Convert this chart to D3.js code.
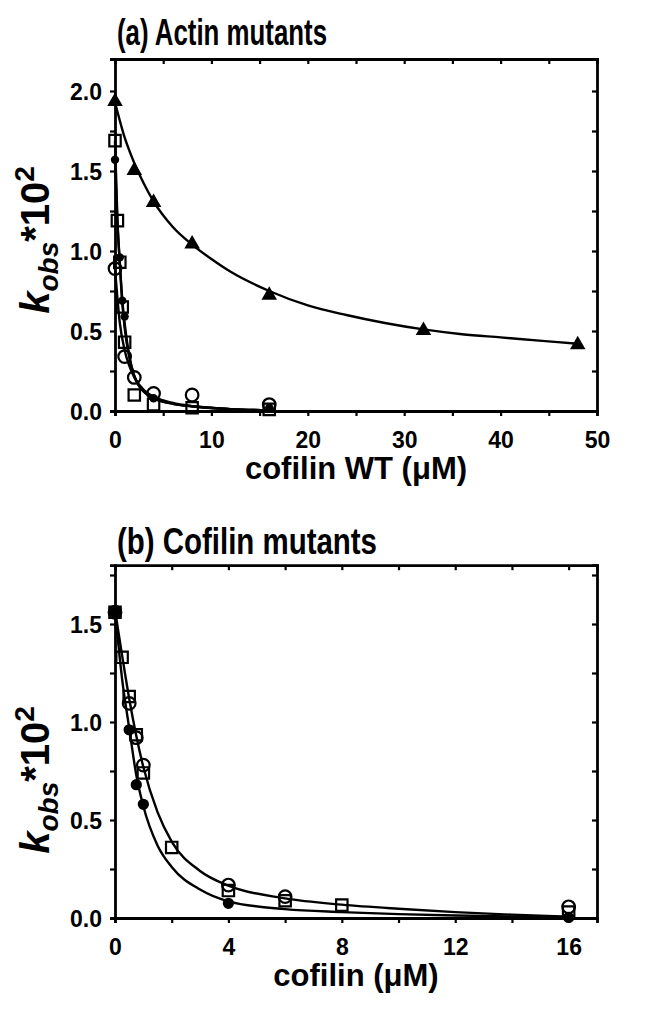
<!DOCTYPE html>
<html><head><meta charset="utf-8">
<script src="https://cdn.jsdelivr.net/npm/d3@7"></script>
<style>body{margin:0;background:#fff}svg{display:block}</style>
</head><body>
<script>
// ---------- Panel (a) data: actin mutants vs cofilin WT ----------
const aTriangles = [[0,1.94],[2,1.51],[4,1.31],[8,1.05],[16,0.73],[32,0.51],[48,0.42]];
const aSquares   = [[0,1.69],[0.25,1.19],[0.5,0.93],[0.75,0.65],[1,0.43],[2,0.10],[4,0.04],[8,0.02],[16,0.01]];
const aFilled    = [[0,1.57],[0.5,0.96],[0.75,0.69],[1,0.59],[4,0.08],[16,0.02]];
const aOpen      = [[0,0.89],[1,0.34],[2,0.21],[4,0.11],[8,0.10],[16,0.04]];
// fitted curves
const aCurveTri  = [[0,1.93],[1,1.71],[2,1.55],[3,1.42],[4,1.31],[6,1.15],[8,1.04],[10,0.95],[12,0.87],[16,0.75],[20,0.66],[24,0.60],[28,0.55],[32,0.51],[36,0.48],[40,0.46],[44,0.44],[48,0.42]];
const aCurveSq   = [[0,1.69],[0.25,1.20],[0.5,0.92],[0.75,0.68],[1,0.52],[1.5,0.33],[2,0.22],[3,0.12],[4,0.08],[6,0.045],[8,0.03],[12,0.012],[16,0.005]];
const aCurveFc   = [[0,1.57],[0.25,1.18],[0.5,0.93],[0.75,0.70],[1,0.55],[1.5,0.34],[2,0.22],[3,0.12],[4,0.08],[6,0.045],[8,0.03],[12,0.012],[16,0.005]];
const aCurveOc   = [[0,0.89],[0.5,0.55],[1,0.38],[1.5,0.28],[2,0.21],[3,0.13],[4,0.09],[6,0.05],[8,0.03],[12,0.012],[16,0.005]];
const aXTicks = [0,10,20,30,40,50];
const aYTicks = [0,0.5,1,1.5,2];

// ---------- Panel (b) data: cofilin mutants ----------
const bSquares = [[0,1.56],[0.25,1.33],[0.5,1.13],[0.75,0.935],[1,0.74],[2,0.36],[4,0.14],[6,0.088],[8,0.066],[16,0.03]];
const bOpen    = [[0,1.56],[0.5,1.095],[0.75,0.92],[1,0.78],[4,0.168],[6,0.109],[16,0.057]];
const bFilled  = [[0,1.56],[0.5,0.96],[0.75,0.68],[1,0.58],[4,0.075],[16,0.003]];
const bCurveUp = [[0,1.57],[0.25,1.34],[0.5,1.12],[0.75,0.93],[1,0.77],[1.5,0.54],[2,0.39],[3,0.24],[4,0.165],[6,0.10],[8,0.068],[10,0.047],[12,0.03],[14,0.017],[16,0.006]];
const bCurveLo = [[0,1.57],[0.25,1.22],[0.5,0.97],[0.75,0.73],[1,0.57],[1.5,0.37],[2,0.26],[3,0.145],[4,0.085],[6,0.045],[8,0.03],[10,0.02],[12,0.013],[14,0.008],[16,0.004]];
const bXTicks = [0,4,8,12,16];
const bYTicks = [0,0.5,1,1.5];

const svg = d3.select("body").append("svg").attr("width",654).attr("height",1011);
const FONT = "'Liberation Sans', Arial, sans-serif";

function panel(cfg){
  const g = svg.append("g");
  const x = d3.scaleLinear().domain(cfg.xDomain).range([115,597]);
  const y = d3.scaleLinear().domain(cfg.yDomain).range(cfg.yRange);
  const [y0,y1] = cfg.yRange;
  const fmtY = d3.format(".1f");
  // curves
  const line = d3.line().x(d=>x(d[0])).y(d=>y(d[1])).curve(d3.curveMonotoneX);
  cfg.curves.forEach(c=>g.append("path").attr("d",line(c)).attr("fill","none").attr("stroke","#000").attr("stroke-width",2.4));
  // bottom
  const bx = g.append("g").attr("transform",`translate(0,${y0})`)
    .call(d3.axisBottom(x).tickValues(cfg.xMinor).tickSize(5).tickFormat(d=>cfg.xTicks.includes(d)?d:""));
  // top
  g.append("g").attr("transform",`translate(0,${y1})`)
    .call(d3.axisTop(x).tickValues(cfg.xMinor).tickSize(-5).tickFormat(""));
  // left
  const ly = g.append("g").attr("transform",`translate(115,0)`)
    .call(d3.axisLeft(y).tickValues(cfg.yMinor).tickSize(5).tickFormat(d=>cfg.yTicks.some(t=>Math.abs(t-d)<1e-9)?fmtY(d):""));
  // right
  g.append("g").attr("transform",`translate(597,0)`)
    .call(d3.axisRight(y).tickValues(cfg.yMinor).tickSize(-5).tickFormat(""));
  g.selectAll(".domain").attr("stroke","#000").attr("stroke-width",2.8);
  g.selectAll(".tick line").attr("stroke","#000").attr("stroke-width",2.2);
  g.selectAll(".tick text").attr("font-family",FONT).attr("font-weight","bold").attr("font-size",23).attr("fill","#000");
  bx.selectAll(".tick text").attr("y",21).attr("dy","0.71em");
  ly.selectAll(".tick text").attr("x",-13).attr("dy","0.36em");
  // axis title
  g.append("text").attr("x",356).attr("y",y0+68).attr("text-anchor","middle")
    .attr("font-family",FONT).attr("font-weight","bold").attr("font-size",31).text(cfg.xLabel);
  // y label
  const yl = g.append("text").attr("transform",`translate(49,${cfg.yLabelY}) rotate(-90)`)
    .attr("text-anchor","middle").attr("font-family",FONT).attr("font-weight","bold").attr("font-size",40);
  yl.append("tspan").attr("font-style","italic").text("k");
  yl.append("tspan").attr("font-style","italic").attr("font-size",28).attr("dy",9).text("obs");
  yl.append("tspan").attr("dy",-9).text("*10");
  yl.append("tspan").attr("font-size",28).attr("dy",-15).text("2");
  // title
  g.append("text").attr("x",117).attr("y",cfg.titleY).attr("font-family",FONT).attr("font-weight","bold")
    .attr("font-size",37).attr("textLength",cfg.titleLen).attr("lengthAdjust","spacingAndGlyphs").text(cfg.title);
  // markers
  cfg.series.forEach(s=>{
    const sel = g.append("g").selectAll("path").data(s.data).join("path")
      .attr("transform",d=>`translate(${x(d[0])},${y(d[1])})`);
    if(s.type==="tri") sel.attr("d",d3.symbol(d3.symbolTriangle,105)()).attr("fill","#000").attr("transform",d=>`translate(${x(d[0])},${y(d[1])+1})`);
    if(s.type==="sq") sel.attr("d",d3.symbol(d3.symbolSquare,130)()).attr("fill","none").attr("stroke","#000").attr("stroke-width",2.2);
    if(s.type==="oc") sel.attr("d",d3.symbol(d3.symbolCircle,s.size||125)()).attr("fill","none").attr("stroke","#000").attr("stroke-width",2.2);
    if(s.type==="fc") sel.attr("d",d3.symbol(d3.symbolCircle,s.size||60)()).attr("fill","#000");
  });
}

panel({xDomain:[0,50], yDomain:[0,2.2], yRange:[411,59],
  xMinor:d3.range(0,51,5), xTicks:aXTicks, yMinor:d3.range(0,2.2,0.25), yTicks:aYTicks,
  xLabel:"cofilin WT (\u03BCM)", yLabelY:240, title:"(a) Actin mutants", titleY:45, titleLen:210,
  curves:[aCurveTri,aCurveSq,aCurveFc,aCurveOc],
  series:[{type:"tri",data:aTriangles},{type:"oc",data:aOpen},{type:"sq",data:aSquares},{type:"fc",data:aFilled,size:55}]});

panel({xDomain:[0,17], yDomain:[0,1.8], yRange:[918,565.2],
  xMinor:d3.range(0,17,2), xTicks:bXTicks, yMinor:d3.range(0,1.8,0.25), yTicks:bYTicks,
  xLabel:"cofilin (\u03BCM)", yLabelY:780, title:"(b) Cofilin mutants", titleY:554, titleLen:260,
  curves:[bCurveUp,bCurveLo],
  series:[{type:"fc",data:bFilled,size:100},{type:"oc",data:bOpen},{type:"sq",data:bSquares}]});
</script>
</body></html>
